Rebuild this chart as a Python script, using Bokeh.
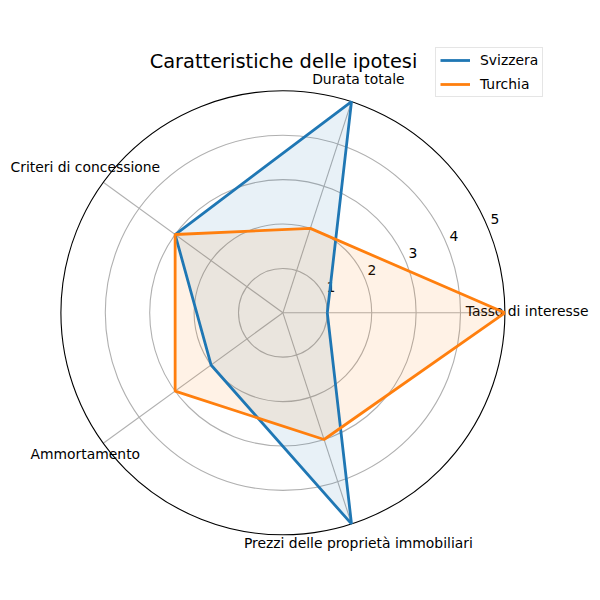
import numpy as np
from bokeh.plotting import figure
from bokeh.models import Label, Legend, LegendItem
from bokeh.core.properties import value
from bokeh.embed import file_html
from bokeh.resources import INLINE

categories = ["Tasso di interesse", "Durata totale", "Criteri di concessione",
              "Ammortamento", "Prezzi delle proprietà immobiliari"]
svizzera = [1, 5, 3, 2, 5]
turchia = [5, 2, 3, 3, 3]
r_ticks = [1, 2, 3, 4, 5]
r_max = 5
title_text = "Caratteristiche delle ipotesi"

W = H = 600
cx, cy = 282.4, 312.3
scale = 44.4
FONT = "DejaVu Sans"

p = figure(width=W, height=H, output_backend="svg", toolbar_location=None,
           x_range=(-cx / scale, (W - cx) / scale),
           y_range=(-(H - cy) / scale, cy / scale),
           min_border=0, background_fill_color="white", border_fill_color="white")
p.outline_line_color = None
p.axis.visible = False
p.grid.visible = False

n = len(categories)
angles = np.arange(n) * 2 * np.pi / n

# grid circles
for r in r_ticks[:-1]:
    p.circle(x=0, y=0, radius=r, fill_color=None, line_color="#b0b0b0", line_width=1.1)
# spokes
for a in angles:
    p.line([0, r_max * np.cos(a)], [0, r_max * np.sin(a)], line_color="#b0b0b0", line_width=1.1)
# outer circle
p.circle(x=0, y=0, radius=r_max, fill_color=None, line_color="black", line_width=1.1)

# radial tick labels
ra = np.deg2rad(22.5)
p.text(x=[r * np.cos(ra) for r in r_ticks], y=[r * np.sin(ra) for r in r_ticks],
       text=[str(r) for r in r_ticks], text_align="center", text_baseline="middle",
       x_offset=7, y_offset=-9, text_font=value(FONT), text_font_size="13.9px", text_color="black")

# category labels
lr = 5.5
p.text(x=list(lr * np.cos(angles)), y=list(lr * np.sin(angles)), text=categories,
       text_align="center", text_baseline="middle", y_offset=-2, text_font=value(FONT),
       text_font_size="13.9px", text_color="black")

colors = ["#1f77b4", "#ff7f0e"]
series = [("Svizzera", svizzera), ("Turchia", turchia)]
items = []
for (name, vals), c in zip(series, colors):
    v = np.array(vals, dtype=float)
    p.patch(list(v * np.cos(angles)), list(v * np.sin(angles)),
            fill_color=c, fill_alpha=0.1, line_color=None)
for (name, vals), c in zip(series, colors):
    v = np.array(vals, dtype=float)
    xs = list(v * np.cos(angles)) + [v[0] * np.cos(angles[0])]
    ys = list(v * np.sin(angles)) + [v[0] * np.sin(angles[0])]
    r = p.line(xs, ys, line_color=c, line_width=2.8)
    items.append(LegendItem(label=name, renderers=[r]))

legend = Legend(items=items, location=(435, 503), padding=4, spacing=8,
                label_height=14, glyph_height=14, glyph_width=30, label_standoff=10,
                label_text_font=FONT, label_text_font_size="13.9px", label_text_color="black",
                border_line_color="#cccccc", border_line_width=1,
                background_fill_alpha=0.8, margin=0)
p.add_layout(legend, "center")

p.add_layout(Label(x=283, y=H - 61, x_units="screen", y_units="screen", text=title_text,
                   text_align="center", text_baseline="middle", text_font=FONT,
                   text_font_size="19.4px", text_color="black"))

open("out.html", "w").write(file_html(p, INLINE))
